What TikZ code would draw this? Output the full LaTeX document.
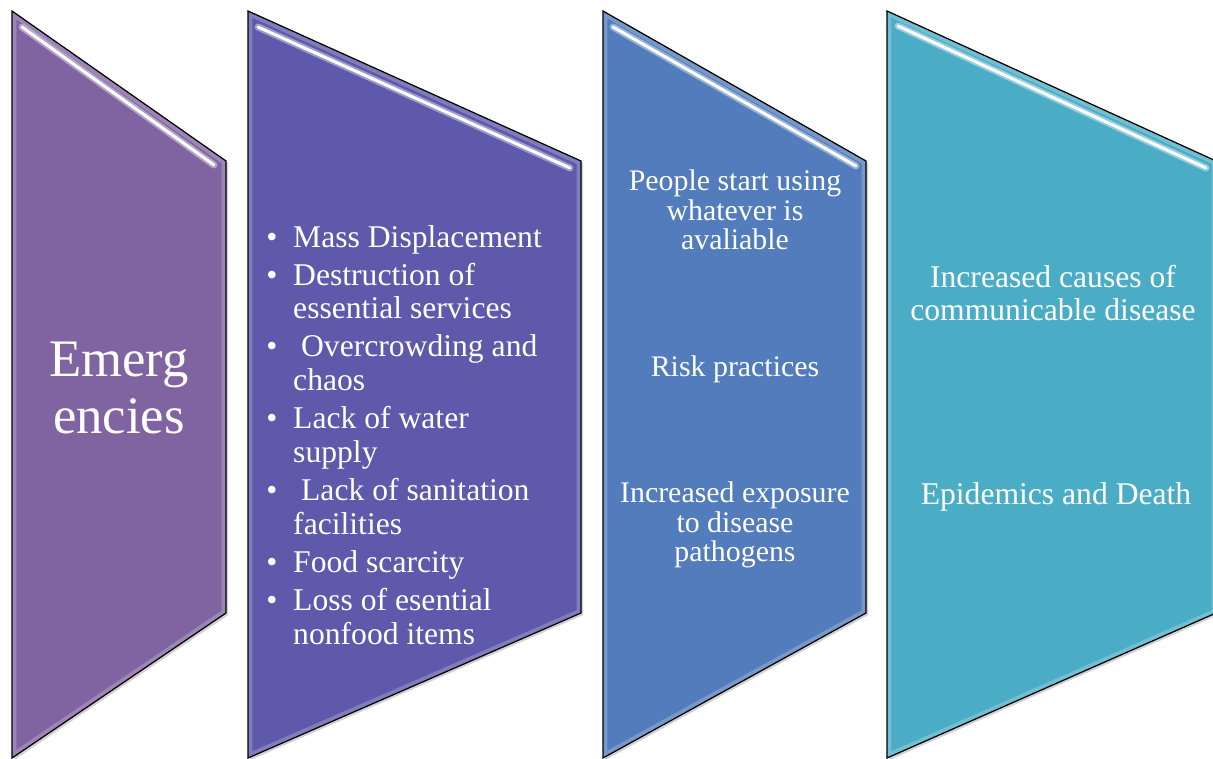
\documentclass[tikz,border=0pt]{standalone}
\usepackage{fontspec}
\setmainfont{Liberation Serif}

% panel outline heights (px, downwards)
\newcommand*{\ytop}{11}
\newcommand*{\ycut}{161}
\newcommand*{\ylow}{613}
\newcommand*{\ybot}{758}

\definecolor{emergcol}{HTML}{8064A2}
\definecolor{impactcol}{HTML}{5E59AB}
\definecolor{riskcol}{HTML}{527CBB}
\definecolor{outcomecol}{HTML}{4BACC6}

\begin{document}
\begin{tikzpicture}
[
	x=0.02cm,
	y=-0.02cm,
	panel/.style={draw=black,line width=0.7pt,line join=miter},
	backshadow/.style={fill=black,opacity=0.18,xshift=1.2pt,yshift=-1.2pt},
	rim/.style={white,opacity=0.22,line width=5pt},
	glow/.style={white,opacity=0.4,line width=4pt,line cap=round},
	gloss/.style={white,line width=1.7pt,line cap=round},
	stagetext/.style={text=white,align=center,inner sep=0pt}
]

	\useasboundingbox (0,0) rectangle (1213,759);

	% shadows
	\fill[backshadow] (12,\ytop) -- (226,\ycut) -- (226,\ylow) -- (12,\ybot) -- cycle;
	\fill[backshadow] (248,\ytop) -- (581,\ycut) -- (581,\ylow) -- (248,\ybot) -- cycle;
	\fill[backshadow] (603,\ytop) -- (866,\ycut) -- (866,\ylow) -- (603,\ybot) -- cycle;
	\fill[backshadow] (887,\ytop) -- (1216,\ycut) -- (1216,\ylow) -- (887,\ybot) -- cycle;

	% panels
	\fill[emergcol] (12,\ytop) -- (226,\ycut) -- (226,\ylow) -- (12,\ybot) -- cycle;
	\fill[impactcol] (248,\ytop) -- (581,\ycut) -- (581,\ylow) -- (248,\ybot) -- cycle;
	\fill[riskcol] (603,\ytop) -- (866,\ycut) -- (866,\ylow) -- (603,\ybot) -- cycle;
	\fill[outcomecol] (887,\ytop) -- (1216,\ycut) -- (1216,\ylow) -- (887,\ybot) -- cycle;

	% soft inner rim
	\begin{scope}
		\clip (12,\ytop) -- (226,\ycut) -- (226,\ylow) -- (12,\ybot) -- cycle;
		\draw[rim] (12,\ytop) -- (226,\ycut) -- (226,\ylow) -- (12,\ybot) -- cycle;
	\end{scope}
	\begin{scope}
		\clip (248,\ytop) -- (581,\ycut) -- (581,\ylow) -- (248,\ybot) -- cycle;
		\draw[rim] (248,\ytop) -- (581,\ycut) -- (581,\ylow) -- (248,\ybot) -- cycle;
	\end{scope}
	\begin{scope}
		\clip (603,\ytop) -- (866,\ycut) -- (866,\ylow) -- (603,\ybot) -- cycle;
		\draw[rim] (603,\ytop) -- (866,\ycut) -- (866,\ylow) -- (603,\ybot) -- cycle;
	\end{scope}
	\begin{scope}
		\clip (887,\ytop) -- (1216,\ycut) -- (1216,\ylow) -- (887,\ybot) -- cycle;
		\draw[rim] (887,\ytop) -- (1216,\ycut) -- (1216,\ylow) -- (887,\ybot) -- cycle;
	\end{scope}

	% outlines
	\draw[panel] (12,\ytop) -- (226,\ycut) -- (226,\ylow) -- (12,\ybot) -- cycle;
	\draw[panel] (248,\ytop) -- (581,\ycut) -- (581,\ylow) -- (248,\ybot) -- cycle;
	\draw[panel] (603,\ytop) -- (866,\ycut) -- (866,\ylow) -- (603,\ybot) -- cycle;
	\draw[panel] (887,\ytop) -- (1216,\ycut) -- (1216,\ylow) -- (887,\ybot) -- cycle;

	% glossy highlight under the top edges
	\draw[glow] (22,27) -- (214,165);
	\draw[gloss] (22,27) -- (214,165);
	\draw[glow] (258,27) -- (570,168);
	\draw[gloss] (258,27) -- (570,168);
	\draw[glow] (613,27) -- (856,166);
	\draw[gloss] (613,27) -- (856,166);
	\draw[glow] (898,26) -- (1206,168);
	\draw[gloss] (898,26) -- (1206,168);

	% texts
	\node[stagetext,font=\fontsize{30}{32.3}\selectfont] (emerg) at (119,388) {Emerg\\encies};

	\node[stagetext,anchor=north west,align=left,font=\fontsize{18}{19.3}\selectfont] (impacts) at (266,223) {%
		\begin{tabular}{@{}l@{\hspace{9pt}}l@{}}
			\textbullet & Mass Displacement\\[2.3pt]
			\textbullet & Destruction of\\
			            & essential services\\[2.3pt]
			\textbullet & \ Overcrowding and\\
			            & chaos\\[2.3pt]
			\textbullet & Lack of water\\
			            & supply\\[2.3pt]
			\textbullet & \ Lack of sanitation\\
			            & facilities\\[2.3pt]
			\textbullet & Food scarcity\\[2.3pt]
			\textbullet & Loss of esential\\
			            & nonfood items
		\end{tabular}};

	\node[stagetext,font=\fontsize{17}{16.8}\selectfont] (using) at (735,210) {People start using\\whatever is\\avaliable};
	\node[stagetext,anchor=base,font=\fontsize{17}{16.8}\selectfont] (practices) at (735,377) {Risk practices};
	\node[stagetext,font=\fontsize{17}{16.8}\selectfont] (exposure) at (735,525) {Increased exposure\\to disease\\pathogens};

	\node[stagetext,font=\fontsize{18}{18.7}\selectfont] (causes) at (1053,293) {Increased causes of\\communicable disease};
	\node[stagetext,anchor=base,font=\fontsize{18}{18.7}\selectfont] (deaths) at (1056,505) {Epidemics and Death};

\end{tikzpicture}
\end{document}
